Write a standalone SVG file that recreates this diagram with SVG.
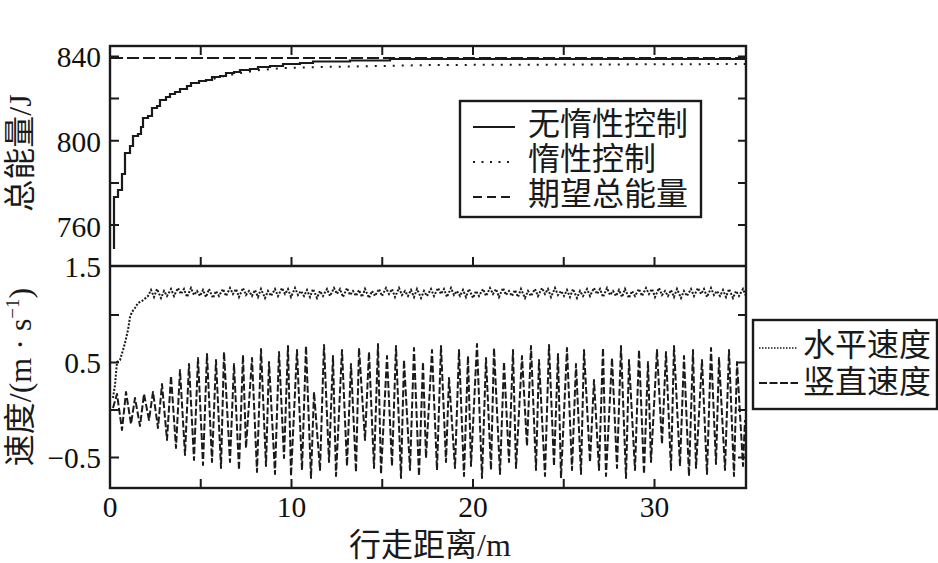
<svg xmlns="http://www.w3.org/2000/svg" width="938" height="563" viewBox="0 0 938 563">
<style>
.frame{fill:none;stroke:#1a1a1a;stroke-width:2.4}
.tick{stroke:#1a1a1a;stroke-width:2}
.num{font-family:"Liberation Serif","Noto Sans CJK SC",serif;font-size:29.5px;fill:#111111}
.lab{font-family:"Liberation Serif","Noto Sans CJK SC",serif;font-size:32px;fill:#1a1a1a}
.solid{fill:none;stroke:#1a1a1a;stroke-width:2.2;stroke-linejoin:miter}
.dot{fill:none;stroke:#1a1a1a;stroke-width:2;stroke-dasharray:2 7}
.dash{fill:none;stroke:#1a1a1a;stroke-width:2.2;stroke-dasharray:12 4}
.vdash{fill:none;stroke:#1a1a1a;stroke-width:2;stroke-dasharray:7 2.5;stroke-linejoin:round}
.hdot{fill:none;stroke:#1a1a1a;stroke-width:2;stroke-dasharray:2 1.6}
</style>
<defs>
<clipPath id="plotclip"><rect x="110" y="266" width="636" height="222"/></clipPath>
</defs>
<rect width="938" height="563" fill="#ffffff"/>

<g id="energy-series">
<path class="dash" d="M111,58 H746"/>
<path class="dot" d="M205,81 L220,77 L240,73 L260,70 L283,68 L320,67 L380,66 L430,65 L746,64"/>
<path class="solid" d="M114,249 V197 H118 V190 H122 V174 H125 V153 H130 V146 H133 V136 H138 V134 H141 V127 H143 V118 H148 V116 H152 V108 H157 V106 H160 V100 H166 V97 H170 V94 H175 V92 H180 V89 H187 V86 H191 V83 H199 V81 H206 V80 H212 V77 H220 V76 H226 V73 H234 V72 H240 V70 H250 V69 H258 V67 H270 V66 H283 V64 H300 V63 H313 V61.5 H350 V60.5 H390 V59 H746"/>
</g>

<g id="speed-series" clip-path="url(#plotclip)">
<path class="hdot" d="M113,398 L115,385 L117,362 L120,360 L123,350 L125,343 L128,330 L130,317 L132,312 L135,308 L138,303 L142,301 L148,296 l3,-6 l3,7 l3,-8 l4,9 l3,-7 l3,5 l4,-7 l3,7 l4,-8 l3,6 l3,-5 l3,8 l4,-9 l3,7 l3,-4 l3,5 l3,-6 l3,7 l3,-8 l4,9 l3,-7 l3,5 l4,-7 l3,7 l4,-8 l3,6 l3,-5 l3,8 l4,-9 l3,7 l3,-4 l3,5 l3,-6 l3,7 l3,-8 l4,9 l3,-7 l3,5 l4,-7 l3,7 l4,-8 l3,6 l3,-5 l3,8 l4,-9 l3,7 l3,-4 l3,5 l3,-6 l3,7 l3,-8 l4,9 l3,-7 l3,5 l4,-7 l3,7 l4,-8 l3,6 l3,-5 l3,8 l4,-9 l3,7 l3,-4 l3,5 l3,-6 l3,7 l3,-8 l4,9 l3,-7 l3,5 l4,-7 l3,7 l4,-8 l3,6 l3,-5 l3,8 l4,-9 l3,7 l3,-4 l3,5 l3,-6 l3,7 l3,-8 l4,9 l3,-7 l3,5 l4,-7 l3,7 l4,-8 l3,6 l3,-5 l3,8 l4,-9 l3,7 l3,-4 l3,5 l3,-6 l3,7 l3,-8 l4,9 l3,-7 l3,5 l4,-7 l3,7 l4,-8 l3,6 l3,-5 l3,8 l4,-9 l3,7 l3,-4 l3,5 l3,-6 l3,7 l3,-8 l4,9 l3,-7 l3,5 l4,-7 l3,7 l4,-8 l3,6 l3,-5 l3,8 l4,-9 l3,7 l3,-4 l3,5 l3,-6 l3,7 l3,-8 l4,9 l3,-7 l3,5 l4,-7 l3,7 l4,-8 l3,6 l3,-5 l3,8 l4,-9 l3,7 l3,-4 l3,5 l3,-6 l3,7 l3,-8 l4,9 l3,-7 l3,5 l4,-7 l3,7 l4,-8 l3,6 l3,-5 l3,8 l4,-9 l3,7 l3,-4 l3,5 l3,-6 l3,7 l3,-8 l4,9 l3,-7 l3,5 l4,-7 l3,7 l4,-8 l3,6 l3,-5 l3,8 l4,-9 l3,7 l3,-4 l3,5 l3,-6 l3,7 l3,-8 l4,9 l3,-7 l3,5 l4,-7 l3,7 l4,-8 l3,6 l3,-5 l3,8 l4,-9 l3,7 l3,-4 l3,5 l3,-6 l3,7 l3,-8 l4,9 l3,-7 l3,5 l4,-7 l3,7 l4,-8 l3,6 l3,-5 l3,8 l4,-9 l3,7 l3,-4 l3,5"/>
<polyline class="vdash" points="113,408 117,394 122,430 126,392 131,424 135,398 140,426 144,394 149,420 153,392 158,428 162,384 167,440 171,376 176,448 180,370 185,455 189,364 194,460 198,358 203,465 207,354 212,462 216,360 221,468 224,352 230,462 234,364 239,470 243,355 246,448 252,358 257,472 261,349 266,466 269,362 275,474 279,352 284,458 288,346 291,476 297,350 302,470 306,346 311,478 314,392 320,470 324,345 329,462 333,356 336,476 342,350 347,466 351,364 356,472 359,348 365,440 369,352 374,468 378,344 381,474 387,356 392,466 396,346 401,478 404,360 410,470 414,348 419,476 423,362 426,458 432,350 437,470 441,346 446,462 449,378 455,468 459,350 464,476 468,356 471,466 477,344 482,478 486,358 491,470 494,348 500,474 504,362 509,462 513,350 516,468 522,356 527,446 531,346 536,470 539,360 545,476 549,345 554,466 558,354 561,478 567,348 572,470 576,364 581,474 584,350 590,462 594,380 599,470 603,348 606,476 612,358 617,468 621,346 626,478 629,360 635,470 639,350 644,474 648,362 651,462 657,350 662,444 666,352 671,470 674,346 680,466 684,356 689,476 693,350 696,468 702,360 707,474 711,348 716,464 719,358 725,470 729,350 734,476 737,362 743,466 745,420"/>
</g>

<g id="axes">
<rect class="frame" x="110" y="46" width="636" height="442"/>
<line class="frame" x1="110" y1="266" x2="746" y2="266"/>
<path class="tick" d="M200.75,46 v9 M291.5,46 v9 M382.25,46 v9 M473,46 v9 M563.75,46 v9 M654.5,46 v9
M200.75,266 v-9 M291.5,266 v-9 M382.25,266 v-9 M473,266 v-9 M563.75,266 v-9 M654.5,266 v-9
M200.75,488 v-9 M291.5,488 v-9 M382.25,488 v-9 M473,488 v-9 M563.75,488 v-9 M654.5,488 v-9
M110,56.5 h9 M110,98.6 h9 M110,140.8 h9 M110,182.9 h9 M110,225.1 h9
M746,56.5 h-8 M746,98.6 h-8 M746,140.8 h-8 M746,182.9 h-8 M746,225.1 h-8
M110,315 h9 M110,362.5 h9 M110,410 h9 M110,457.5 h9
M746,315 h-8 M746,362.5 h-8 M746,410 h-8 M746,457.5 h-8"/>
<g class="num" text-anchor="end">
<text x="101" y="67">840</text>
<text x="101" y="152">800</text>
<text x="101" y="237">760</text>
<text x="101" y="277">1.5</text>
<text x="101" y="373">0.5</text>
<text x="101" y="468">−0.5</text>
</g>
<g class="num" text-anchor="middle">
<text x="110" y="517">0</text>
<text x="291.5" y="517">10</text>
<text x="473" y="517">20</text>
<text x="654.5" y="517">30</text>
</g>
<text class="lab" x="430" y="556" text-anchor="middle">行走距离/m</text>
<text class="lab" transform="translate(31,153) rotate(-90)" text-anchor="middle">总能量/J</text>
<text class="lab" transform="translate(31,377) rotate(-90)" text-anchor="middle">速度/(m · s<tspan font-size="19" dy="-12">−1</tspan><tspan dy="12">)</tspan></text>
</g>

<g id="legend-energy">
<rect class="frame" x="460" y="101" width="241" height="116" stroke-width="2"/>
<line class="solid" x1="473" y1="127" x2="515" y2="127"/>
<line class="dot" x1="473" y1="162" x2="515" y2="162" style="stroke-dasharray:2 6.5"/>
<line class="dash" x1="473" y1="197" x2="515" y2="197" style="stroke-dasharray:9 5"/>
<text class="lab" x="528" y="135">无惰性控制</text>
<text class="lab" x="528" y="170">惰性控制</text>
<text class="lab" x="528" y="205">期望总能量</text>
</g>

<g id="legend-speed">
<rect class="frame" x="753" y="320" width="184" height="89" stroke-width="2"/>
<line class="hdot" x1="759" y1="348" x2="798" y2="348" style="stroke-width:1.5;stroke-dasharray:1.5 1.5"/>
<line class="vdash" x1="759" y1="383" x2="798" y2="383" style="stroke-dasharray:8 2.5"/>
<text class="lab" x="803" y="356">水平速度</text>
<text class="lab" x="803" y="393">竖直速度</text>
</g>
</svg>
